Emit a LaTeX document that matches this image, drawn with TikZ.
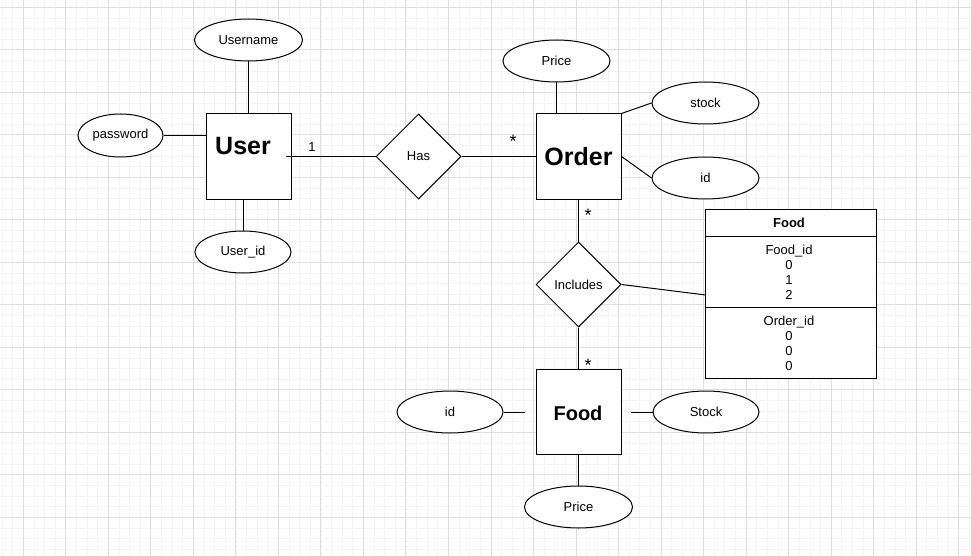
\documentclass[tikz,border=0pt]{standalone}
\usepackage{fontspec}
\setmainfont{Liberation Sans}
\usetikzlibrary{shapes.geometric}
\definecolor{gridminor}{HTML}{F4F4F4}
\definecolor{gridmajor}{HTML}{DEDEDE}
\tikzset{
  attr/.style={draw, ellipse, line width=1pt, inner sep=0pt, fill=white,
    font=\fontsize{13}{15}\selectfont},
  entbox/.style={draw, rectangle, line width=1pt, inner sep=0pt, fill=white,
    minimum width=85pt, minimum height=85pt},
  entlbl/.style={font=\fontsize{25}{30}\selectfont\bfseries, inner sep=0pt},
  rel/.style={draw, diamond, line width=1pt, inner sep=0pt, fill=white,
    minimum width=85pt, minimum height=85pt, font=\fontsize{13}{15}\selectfont},
  conn/.style={line width=1pt},
  mult/.style={font=\fontsize{18}{20}\selectfont, inner sep=0pt},
  small/.style={font=\fontsize{13}{15}\selectfont, inner sep=0pt, align=center},
}
\begin{document}
\begin{tikzpicture}[x=1pt,y=-1pt]
\useasboundingbox (0,0) rectangle (971,556);
\fill[white] (0,0) rectangle (971,556);
% grid
\foreach \k in {-2,...,89} {
  \draw[gridminor, line width=0.8pt] ({23.3+\k*10.63},0) -- ({23.3+\k*10.63},556);
}
\foreach \k in {-1,...,52} {
  \draw[gridminor, line width=0.8pt] (0,{7.3+\k*10.625}) -- (971,{7.3+\k*10.625});
}
\foreach \k in {0,...,22} {
  \draw[gridmajor, line width=1pt] ({23.3+\k*42.52},0) -- ({23.3+\k*42.52},556);
}
\foreach \k in {0,...,12} {
  \draw[gridmajor, line width=1pt] (0,{7.3+\k*42.5}) -- (971,{7.3+\k*42.5});
}

% User entity
\node[entbox] (user) at (249,156.5) {};
\node[entlbl] (userlbl) at (243,146) {User};
\node[attr, minimum width=108pt, minimum height=42pt] (username) at (248.5,40) {Username};
\node[attr, minimum width=85pt, minimum height=43pt] (password) at (120.5,135.5) {password};
\node[attr, minimum width=96pt, minimum height=42pt] (userid) at (243,252) {User\_id};
\draw[conn] (username.south) -- (username.south |- user.north);
\draw[conn] (password.east) -- (password.east -| user.west);
\draw[conn] (userid.north) -- (userid.north |- user.south);

% Has
\node[rel] (has) at (418.5,156.5) {Has};
\coordinate (hasstart) at (286,156.5);
\draw[conn] (hasstart) -- (has.west);
\node[small] (one) at (312,147) {1};

% Order entity
\node[entbox] (order) at (578.5,156.5) {};
\node[entlbl] (orderlbl) at (578.5,157) {Order};
\draw[conn] (has.east) -- (order.west);
\node[mult] (mhas) at (513,141.5) {*};
\node[attr, minimum width=107pt, minimum height=42pt] (oprice) at (556.5,61) {Price};
\node[attr, minimum width=107pt, minimum height=42pt] (ostock) at (705.5,103) {stock};
\node[attr, minimum width=107pt, minimum height=42pt] (oid) at (705.5,178) {id};
\draw[conn] (oprice.south) -- (oprice.south |- order.north);
\draw[conn] (order.north east) -- (ostock.west);
\draw[conn] (order.east) -- (oid.west);

% Includes
\node[rel] (inc) at (578.5,284.5) {Includes};
\draw[conn] (order.south) -- (inc.north);
\node[mult] (mord) at (588,215.5) {*};

% Food table
\node[draw, rectangle, line width=1pt, fill=white, inner sep=0pt,
  minimum width=171pt, minimum height=169pt] (tbl) at (791.2,293.7) {};
\coordinate (tblh1) at (705.7,236);
\coordinate (tblh2) at (705.7,307);
\draw[conn] (tblh1) -- (tblh1 -| tbl.east);
\draw[conn] (tblh2) -- (tblh2 -| tbl.east);
\node[small, font=\fontsize{13}{15}\selectfont\bfseries] (tbltitle) at (789,222.5) {Food};
\node[small] (tblfood) at (789,272) {Food\_id\\0\\1\\2};
\node[small] (tblorder) at (789,343) {Order\_id\\0\\0\\0};
\coordinate (tblin) at (705.7,295);
\draw[conn] (inc.east) -- (tblin);

% Food entity
\node[entbox] (food) at (578.5,411.5) {};
\node[entlbl, font=\fontsize{20}{24}\selectfont\bfseries] (foodlbl) at (578,413) {Food};
\draw[conn] (inc.south) -- (food.north);
\node[mult] (mfood) at (588,365.5) {*};
\node[attr, minimum width=106pt, minimum height=42pt] (fid) at (450,412) {id};
\node[attr, minimum width=106pt, minimum height=42pt] (fstock) at (706,412) {Stock};
\node[attr, minimum width=108pt, minimum height=42pt] (fprice) at (578.5,507) {Price};
\coordinate (fidend) at (525,412);
\coordinate (fstockend) at (631,412);
\draw[conn] (fid.east) -- (fidend);
\draw[conn] (fstockend) -- (fstock.west);
\draw[conn] (food.south) -- (fprice.north);
\end{tikzpicture}
\end{document}
